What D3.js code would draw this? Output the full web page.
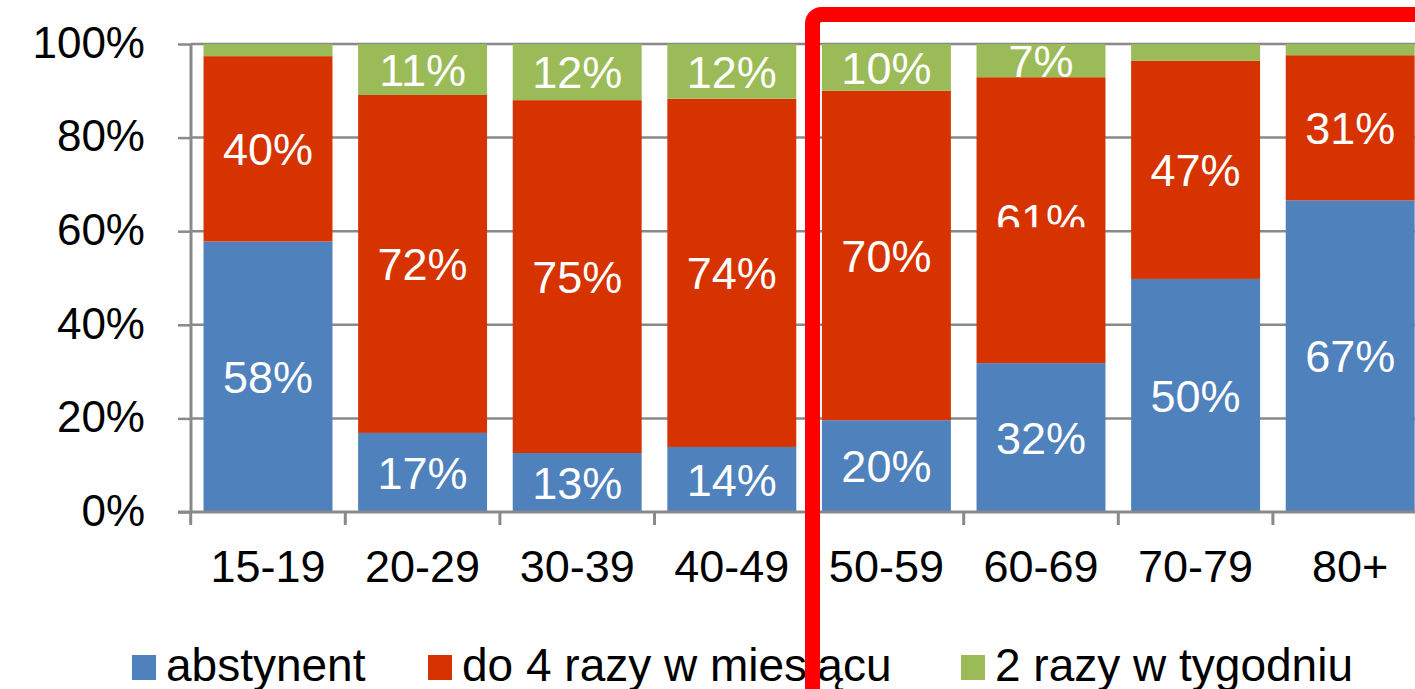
<!DOCTYPE html>
<html><head><meta charset="utf-8">
<script src="https://cdn.jsdelivr.net/npm/d3@7"></script>
<style>body{margin:0;background:#fff;overflow:hidden}svg{display:block}text{font-family:"Liberation Sans",Arial,sans-serif}</style>
</head><body>
<script>
const categories = ["15-19","20-29","30-39","40-49","50-59","60-69","70-79","80+"];
const seriesNames = ["abstynent","do 4 razy w miesiącu","2 razy w tygodniu"];
const abstynent = [57.8,16.9,12.6,13.9,19.6,31.8,49.8,66.6];
const do4razy   = [39.6,72.2,75.4,74.4,70.4,61.1,46.6,31.0];
const dwaRazy   = [2.6,10.9,12.0,11.7,10.0,7.1,3.6,2.4];
const yTicks = [0,20,40,60,80,100];
const colors = ["#4F81BD","#D63300","#9BBB59"];

const W=1415,H=689;
const svg=d3.select("body").append("svg").attr("width",W).attr("height",H);
const x=d3.scaleBand().domain(categories).range([190.7,1427.5]).paddingInner(0.166).paddingOuter(0.083);
const y=d3.scaleLinear().domain([0,100]).range([512,44]);
const gridColor="#898989";

// gridlines
svg.append("g").selectAll("line").data(yTicks.filter(d=>d>0)).join("line")
  .attr("x1",191).attr("x2",W+20).attr("y1",d=>y(d)).attr("y2",d=>y(d))
  .attr("stroke",gridColor).attr("stroke-width",2.5);

const rows=categories.map((c,i)=>({cat:c,abstynent:abstynent[i],do4:do4razy[i],dwa:dwaRazy[i]}));
const stack=d3.stack().keys(["abstynent","do4","dwa"])(rows);

const defs=svg.append("defs");
defs.append("clipPath").attr("id","clip61").append("rect")
  .attr("x",0).attr("y",0).attr("width",W).attr("height",y(60)-4);

stack.forEach((layer,li)=>{
  const g=svg.append("g");
  g.selectAll("rect").data(layer).join("rect")
    .attr("x",d=>x(d.data.cat)).attr("width",x.bandwidth())
    .attr("y",d=>y(d[1])).attr("height",d=>y(d[0])-y(d[1]))
    .attr("fill",colors[li]);
});
stack.forEach((layer,li)=>{
  const g=svg.append("g");
  g.selectAll("text").data(layer.filter(d=>d[1]-d[0]>=5)).join("text")
    .attr("x",d=>x(d.data.cat)+x.bandwidth()/2)
    .attr("y",d=>(y(d[0])+y(d[1]))/2)
    .attr("dy","0.36em")
    .attr("text-anchor","middle").attr("fill","#fff").attr("font-size",45)
    .attr("clip-path",d=>(li===1&&d.data.cat==="60-69")?"url(#clip61)":null)
    .text(d=>Math.round(d[1]-d[0])+"%");
});

// y axis
const ya=svg.append("g").attr("transform","translate(191,0)").call(d3.axisLeft(y).tickValues(yTicks).tickSize(13).tickFormat(d=>d+"%"));
ya.select(".domain").attr("stroke",gridColor).attr("stroke-width",3).attr("d",`M0,${y(100)}V${y(0)}`);
ya.selectAll(".tick line").attr("stroke",gridColor).attr("stroke-width",2.5);
ya.selectAll(".tick text").attr("font-size",44).attr("fill","#000").attr("x",-46).attr("dy","0.3em");

// x axis
const xa=svg.append("g").attr("transform",`translate(0,${y(0)})`).call(d3.axisBottom(x).tickSize(0));
xa.select(".domain").attr("stroke",gridColor).attr("stroke-width",3).attr("d",`M178,0H${W+20}`);
xa.selectAll(".tick text").attr("font-size",45).attr("fill","#000").attr("y",54).attr("dy","0.36em");
const bounds=categories.map(c=>x(c)-x.step()*x.paddingInner()/2);
svg.append("g").selectAll("line").data(bounds).join("line")
  .attr("x1",d=>d).attr("x2",d=>d).attr("y1",y(0)).attr("y2",y(0)+13)
  .attr("stroke",gridColor).attr("stroke-width",3);

// legend
const legX=[132,428,961];
const lg=svg.append("g");
seriesNames.forEach((n,i)=>{
  lg.append("rect").attr("x",legX[i]).attr("y",655).attr("width",24).attr("height",25).attr("fill",colors[i]);
  lg.append("text").attr("x",legX[i]+34).attr("y",681).attr("font-size",46).attr("fill","#000").text(n);
});

// red annotation frame
svg.append("rect").attr("x",812.5).attr("y",14.5).attr("width",1000).attr("height",1000)
  .attr("rx",9).attr("fill","none").attr("stroke","#FF0000").attr("stroke-width",15);
</script>
</body></html>
